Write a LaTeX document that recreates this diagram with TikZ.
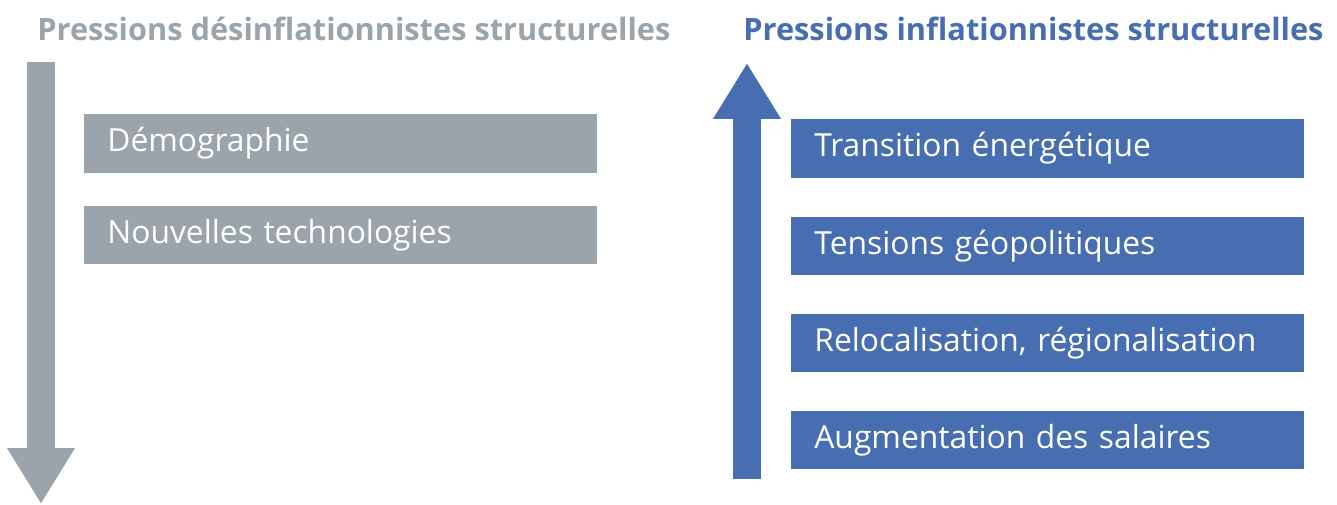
\documentclass[tikz,border=0pt]{standalone}
\usepackage{fontspec}
\setmainfont{Open Sans}
\usepackage{tikz}
\usetikzlibrary{positioning,arrows.meta}
\definecolor{desinfl}{RGB}{155,164,170}
\definecolor{infl}{RGB}{70,110,177}

\begin{document}
\begin{tikzpicture}[
    x=0.02cm, y=-0.02cm,
    box/.style={rectangle, inner xsep=0.46cm, inner ysep=0pt, text width=9.34cm, minimum height=1.17cm, align=left, anchor=north west, text=white, font=\fontsize{18.1}{20}\selectfont},
    title/.style={inner sep=0pt, anchor=base west, font=\fontsize{17.5}{19}\selectfont\bfseries},
    bigarrow/.style={line width=0.56cm, -{Triangle[width=1.28cm,length=1.12cm]}}
]
\useasboundingbox (0,0) rectangle (1337,504);

% ========== LEFT: desinflationnistes ==========
\node[title, text=desinfl] (ltitle) at (37,40) {Pressions désinflationnistes structurelles};

\coordinate (ltop) at (41,62);
\coordinate (lbot) at (41,504);
\draw[bigarrow, desinfl] (ltop) -- (lbot);

\node[box, fill=desinfl] (demo) at (84,114) {Démographie};
\node[box, fill=desinfl, below=0.64cm of demo.south west, anchor=north west] (tech) {Nouvelles technologies};

% ========== RIGHT: inflationnistes ==========
\node[title, text=infl] (rtitle) at (743,40) {Pressions inflationnistes structurelles};

\coordinate (rbot) at (747,479);
\coordinate (rtop) at (747,63);
\draw[bigarrow, infl] (rbot) -- (rtop);

\node[box, fill=infl] (trans) at (791,119) {Transition énergétique};
\node[box, fill=infl, below=0.76cm of trans.south west, anchor=north west] (tens) {Tensions géopolitiques};
\node[box, fill=infl, below=0.76cm of tens.south west, anchor=north west] (reloc) {Relocalisation, régionalisation};
\node[box, fill=infl, below=0.76cm of reloc.south west, anchor=north west] (sal) {Augmentation des salaires};

\end{tikzpicture}
\end{document}
